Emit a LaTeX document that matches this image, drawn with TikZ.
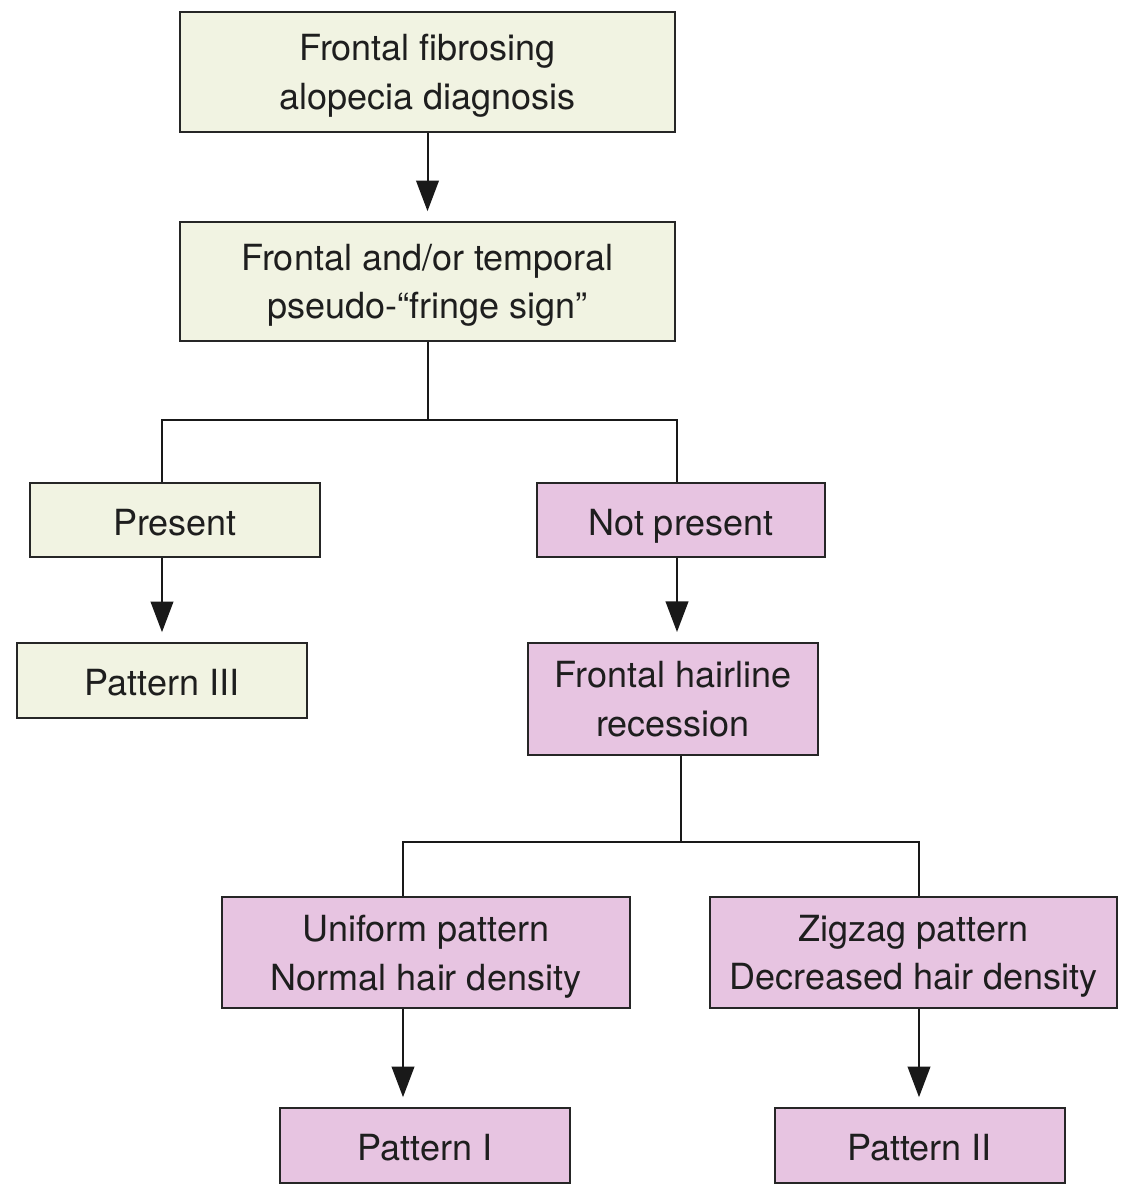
\documentclass[tikz,border=0pt]{standalone}
\usepackage{fontspec}
\setmainfont{TeX Gyre Heros}
\usetikzlibrary{arrows.meta}
\definecolor{boxgreen}{RGB}{241,243,226}
\definecolor{boxpink}{RGB}{231,196,225}
\definecolor{txt}{RGB}{30,30,30}
\tikzset{
  box/.style={draw=black!85, line width=1.5pt, align=center, text=txt,
    font=\fontsize{27pt}{36.5pt}\selectfont, inner sep=0pt},
  one/.style={text height=23pt, text depth=0.5pt},
  two/.style={text depth=-5pt},
  gbox/.style={box, fill=boxgreen},
  pbox/.style={box, fill=boxpink},
  conn/.style={draw=black!90, line width=1.5pt},
  arr/.style={conn, -{Triangle[width=17pt,length=23pt]}, shorten >=7.5pt},
}
\begin{document}
\begin{tikzpicture}[x=0.75pt,y=-0.75pt]
\useasboundingbox (0,0) rectangle (1132,1185);
\clip (0,0) rectangle (1132,1185);
\fill[white] (0,0) rectangle (1132,1185);
\node[gbox, two, minimum width=371pt, minimum height=90pt] (B1) at (427.5,72) {Frontal fibrosing\\alopecia diagnosis};
\node[gbox, two, minimum width=371pt, minimum height=89pt] (B2) at (427.5,281.5) {Frontal and/or temporal\\pseudo-“fringe sign”};
\node[gbox, one, minimum width=217.5pt, minimum height=55.5pt] (P) at (175,520) {Present};
\node[pbox, one, minimum width=216pt, minimum height=55.5pt] (NP) at (681,520) {Not present};
\node[gbox, one, minimum width=217.5pt, minimum height=56pt] (P3) at (162,680.5) {Pattern III};
\node[pbox, two, minimum width=217.5pt, minimum height=84pt] (FH) at (673,699) {Frontal hairline\\recession};
\node[pbox, two, minimum width=306pt, minimum height=83pt] (U) at (426,952.5) {Uniform pattern\\Normal hair density};
\node[pbox, two, minimum width=305pt, minimum height=83pt] (Z) at (913.5,952.5) {Zigzag pattern\\Decreased hair density};
\node[pbox, one, minimum width=217.5pt, minimum height=56pt] (PI) at (425,1145.5) {Pattern I};
\node[pbox, one, minimum width=217.5pt, minimum height=56pt] (PII) at (919.5,1145.5) {Pattern II};
% connectors
\draw[arr] (B1.south) -- (B2.north);
\coordinate (jl) at (162,420);
\coordinate (jr) at (677,420);
\draw[conn] (B2.south) -- (B2.south |- jl);
\draw[conn] (jl |- P.north) -- (jl) -- (jr) -- (jr |- NP.north);
\draw[arr] (jl |- P.south) -- (jl |- P3.north);
\draw[arr] (jr |- NP.south) -- (jr |- FH.north);
\coordinate (kl) at (403,842);
\coordinate (kr) at (919,842);
\coordinate (kc) at (681,842);
\draw[conn] (FH.south -| kc) -- (kc);
\draw[conn] (kl |- U.north) -- (kl) -- (kr) -- (kr |- Z.north);
\draw[arr] (kl |- U.south) -- (kl |- PI.north);
\draw[arr] (kr |- Z.south) -- (kr |- PII.north);
\end{tikzpicture}
\end{document}
